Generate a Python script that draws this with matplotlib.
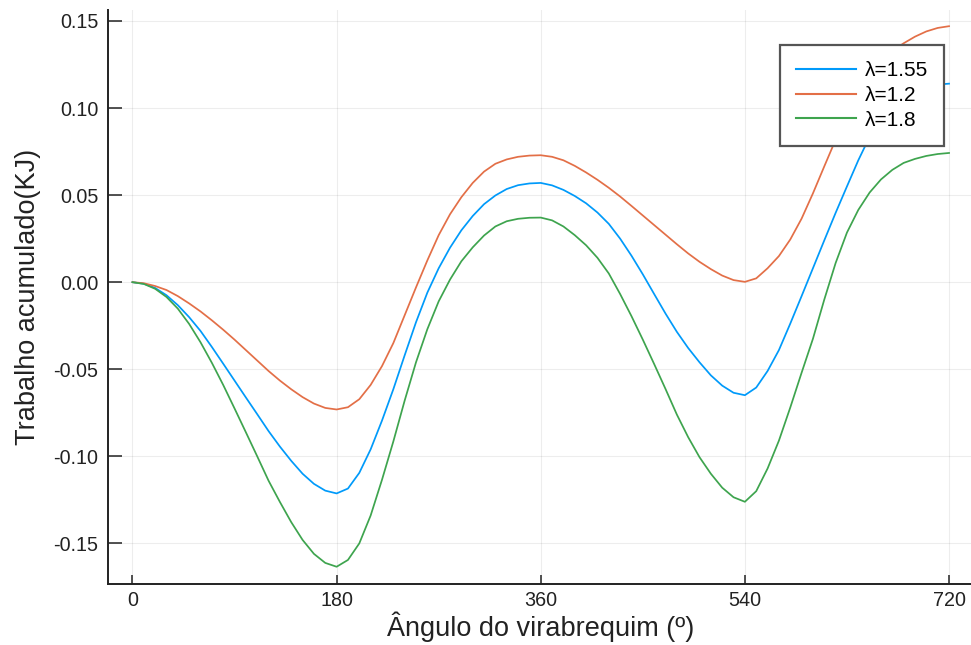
import numpy as np
import matplotlib
matplotlib.use("Agg")
import matplotlib.pyplot as plt

plt.rcParams['font.family'] = ['Liberation Sans', 'DejaVu Sans']
plt.rcParams['axes.unicode_minus'] = False

# angulo do virabrequim (graus), de 10 em 10
angulo = np.arange(0, 721, 10)

# trabalho acumulado (kJ) para cada lambda
w_155 = [0.0, -0.0009, -0.0033, -0.0075, -0.0132, -0.0201, -0.0280, -0.0372,
         -0.0468, -0.0565, -0.0662, -0.0758, -0.0855, -0.0944, -0.1026, -0.1100,
         -0.1158, -0.1197, -0.1213, -0.1185, -0.1095, -0.0960, -0.0795, -0.0615,
         -0.0420, -0.0230, -0.0060, 0.0080, 0.0198, 0.0298, 0.0380, 0.0448,
         0.0498, 0.0535, 0.0557, 0.0567, 0.0570, 0.0556, 0.0530, 0.0495,
         0.0453, 0.0400, 0.0335, 0.0250, 0.0152, 0.0045, -0.0068, -0.0180,
         -0.0285, -0.0378, -0.0460, -0.0535, -0.0594, -0.0635, -0.0649, -0.0605,
         -0.0510, -0.0390, -0.0238, -0.0080, 0.0080, 0.0240, 0.0398, 0.0550,
         0.0700, 0.0835, 0.0938, 0.1010, 0.1062, 0.1095, 0.1120, 0.1135, 0.1140]

w_12 = [0.0, -0.0006, -0.0022, -0.0045, -0.0080, -0.0122, -0.0168, -0.0219,
        -0.0273, -0.0330, -0.0390, -0.0450, -0.0510, -0.0565, -0.0615, -0.0660,
        -0.0697, -0.0722, -0.0731, -0.0718, -0.0672, -0.0590, -0.0482, -0.0350,
        -0.0190, -0.0030, 0.0125, 0.0270, 0.0390, 0.0488, 0.0570, 0.0635,
        0.0680, 0.0705, 0.0720, 0.0727, 0.0729, 0.0720, 0.0700, 0.0668,
        0.0630, 0.0588, 0.0542, 0.0492, 0.0438, 0.0383, 0.0328, 0.0273,
        0.0218, 0.0165, 0.0117, 0.0075, 0.0038, 0.0012, 0.0002, 0.0022,
        0.0080, 0.0150, 0.0245, 0.0365, 0.0510, 0.0665, 0.0818, 0.0960,
        0.1085, 0.1190, 0.1270, 0.1328, 0.1372, 0.1410, 0.1440, 0.1460, 0.1470]

w_18 = [0.0, -0.0010, -0.0038, -0.0085, -0.0152, -0.0240, -0.0345, -0.0463,
        -0.0590, -0.0725, -0.0862, -0.1000, -0.1140, -0.1262, -0.1378, -0.1480,
        -0.1560, -0.1612, -0.1634, -0.1595, -0.1500, -0.1340, -0.1135, -0.0915,
        -0.0680, -0.0460, -0.0270, -0.0110, 0.0015, 0.0120, 0.0200, 0.0268,
        0.0320, 0.0350, 0.0364, 0.0370, 0.0371, 0.0355, 0.0320, 0.0270,
        0.0212, 0.0140, 0.0050, -0.0068, -0.0195, -0.0330, -0.0470, -0.0613,
        -0.0760, -0.0890, -0.1005, -0.1100, -0.1180, -0.1235, -0.1261, -0.1200,
        -0.1070, -0.0910, -0.0720, -0.0520, -0.0325, -0.0100, 0.0110, 0.0285,
        0.0415, 0.0515, 0.0590, 0.0645, 0.0685, 0.0708, 0.0725, 0.0736, 0.0742]

xticks = [0, 180, 360, 540, 720]
yticks = [-0.15, -0.10, -0.05, 0.00, 0.05, 0.10, 0.15]

fig = plt.figure(figsize=(9.71, 6.45), dpi=100)
ax = fig.add_axes([0.1112, 0.0946, 0.8914, 0.8899])

ax.plot(angulo, w_155, color='#009AFA', lw=1.25, label='λ=1.55')
ax.plot(angulo, w_12, color='#E36F47', lw=1.25, label='λ=1.2')
ax.plot(angulo, w_18, color='#3EA44E', lw=1.25, label='λ=1.8')

ax.set_xlim(-21.6, 741.6)
ax.set_ylim(-0.1733, 0.1563)
ax.set_xticks(xticks)
ax.set_yticks(yticks)
ax.set_xticklabels([str(t) for t in xticks])
ax.set_yticklabels(['%.2f' % t for t in yticks])

ax.grid(True, color='#000000', alpha=0.07, lw=0.8)
for s in ['top', 'right']:
    ax.spines[s].set_visible(False)
for s in ['left', 'bottom']:
    ax.spines[s].set_linewidth(1.4)
    ax.spines[s].set_color('#222222')

ax.tick_params(axis='y', direction='in', length=10, width=1.1, pad=7, labelsize=14.2, colors='#222222')
ax.tick_params(axis='x', direction='in', length=6.5, width=1.1, pad=5, labelsize=14.2, colors='#222222')

ax.set_xlabel('Ângulo do virabrequim (º)', fontsize=19.5, color='#222222', labelpad=1)
ax.set_ylabel('Trabalho acumulado(KJ)', fontsize=19.5, color='#222222', labelpad=9)

leg = ax.legend(loc='upper right', bbox_to_anchor=(944 / 971, 1 - 45 / 645),
                bbox_transform=fig.transFigure, fontsize=15, frameon=True,
                fancybox=False, handlelength=2.9, handletextpad=0.4,
                labelspacing=0.27, borderpad=0.78, borderaxespad=0)
leg.get_frame().set_edgecolor('#555555')
leg.get_frame().set_linewidth(1.6)
leg.get_frame().set_alpha(1)
for line in leg.get_lines():
    line.set_linewidth(1.5)

fig.savefig('out.png', dpi=100)
